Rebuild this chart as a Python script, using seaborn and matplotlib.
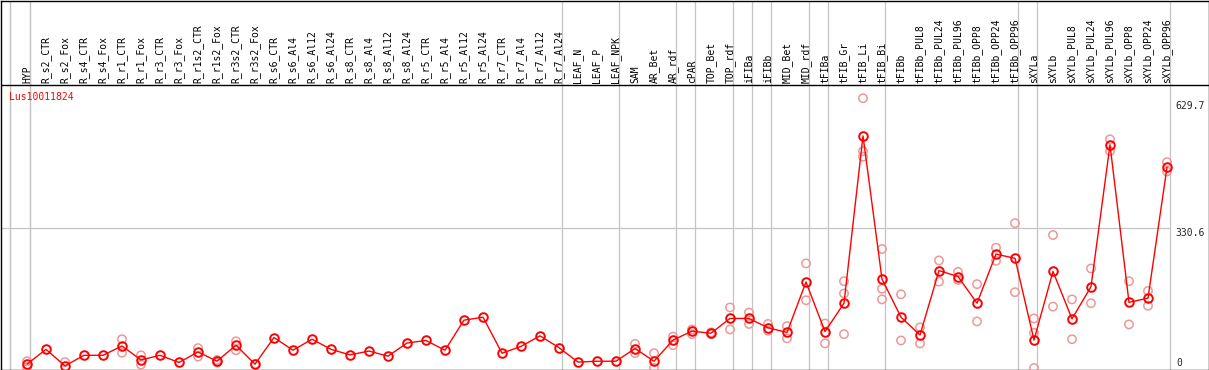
import matplotlib
matplotlib.use("Agg")
import matplotlib.pyplot as plt
import seaborn as sns
import numpy as np
import pandas as pd

samples = [
    "HYP", "R_s2_CTR", "R_s2_Fox", "R_s4_CTR", "R_s4_Fox", "R_r1_CTR", "R_r1_Fox",
    "R_r3_CTR", "R_r3_Fox", "R_r1s2_CTR", "R_r1s2_Fox", "R_r3s2_CTR", "R_r3s2_Fox",
    "R_s6_CTR", "R_s6_Al4", "R_s6_Al12", "R_s6_Al24", "R_s8_CTR", "R_s8_Al4",
    "R_s8_Al12", "R_s8_Al24", "R_r5_CTR", "R_r5_Al4", "R_r5_Al12", "R_r5_Al24",
    "R_r7_CTR", "R_r7_Al4", "R_r7_Al12", "R_r7_Al24", "LEAF_N", "LEAF_P", "LEAF_NPK",
    "SAM", "AR_Bet", "AR_rdf", "cPAR", "TOP_Bet", "TOP_rdf", "iFIBa", "iFIBb",
    "MID_Bet", "MID_rdf", "tFIBa", "tFIB_Gr", "tFIB_Li", "tFIB_Bi", "tFIBb",
    "tFIBb_PUL8", "tFIBb_PUL24", "tFIBb_PUL96", "tFIBb_OPP8", "tFIBb_OPP24",
    "tFIBb_OPP96", "sXYLa", "sXYLb", "sXYLb_PUL8", "sXYLb_PUL24", "sXYLb_PUL96",
    "sXYLb_OPP8", "sXYLb_OPP24", "sXYLb_OPP96",
]

# mean expression per sample
means = [
    9, 44, 5, 30, 30, 52, 19, 30, 13, 38, 16, 54, 9,
    72, 42, 68, 44, 31, 40, 28, 59, 65, 42, 113, 120,
    35, 51, 76, 48, 14, 16, 16,
    46, 16, 66, 87, 82, 117, 117, 95, 84, 203,
    86, 153, 548, 210, 120, 78, 230, 216, 153, 269, 259,
    66, 228, 116, 192, 527, 155, 165, 474,
]

# individual replicates (sample, value)
rep_samples = [
    "HYP", "HYP", "R_s2_Fox", "R_r1_CTR", "R_r1_CTR", "R_r1_Fox", "R_r1_Fox",
    "R_r1s2_CTR", "R_r1s2_CTR", "R_r1s2_Fox", "R_r1s2_Fox", "R_r3s2_CTR", "R_r3s2_CTR",
    "R_r3s2_Fox", "SAM", "SAM", "AR_Bet", "AR_Bet", "AR_rdf", "AR_rdf",
    "cPAR", "cPAR", "TOP_Bet", "TOP_Bet", "TOP_rdf", "TOP_rdf", "iFIBa", "iFIBa",
    "iFIBb", "iFIBb", "MID_Bet", "MID_Bet", "MID_rdf", "MID_rdf", "tFIBa", "tFIBa",
    "tFIB_Gr", "tFIB_Gr", "tFIB_Gr", "tFIB_Li", "tFIB_Li", "tFIB_Li",
    "tFIB_Bi", "tFIB_Bi", "tFIB_Bi", "tFIBb", "tFIBb", "tFIBb_PUL8", "tFIBb_PUL8",
    "tFIBb_PUL24", "tFIBb_PUL24", "tFIBb_PUL96", "tFIBb_PUL96", "tFIBb_OPP8", "tFIBb_OPP8",
    "tFIBb_OPP24", "tFIBb_OPP24", "tFIBb_OPP96", "tFIBb_OPP96",
    "sXYLa", "sXYLa", "sXYLa", "sXYLb", "sXYLb", "sXYLb_PUL8", "sXYLb_PUL8",
    "sXYLb_PUL24", "sXYLb_PUL24", "sXYLb_PUL96", "sXYLb_PUL96", "sXYLb_OPP8", "sXYLb_OPP8",
    "sXYLb_OPP24", "sXYLb_OPP24", "sXYLb_OPP96", "sXYLb_OPP96",
]
rep_values = [
    16, 2, 14, 68, 36, 30, 8,
    47, 27, 19, 13, 63, 42,
    9, 57, 35, 35, 0, 74, 54,
    91, 80, 84, 80, 143, 91, 131, 104,
    104, 88, 99, 70, 247, 160, 105, 58,
    205, 176, 80, 637, 512, 499,
    281, 187, 162, 174, 65, 96, 58,
    254, 204, 227, 208, 198, 110,
    284, 253, 342, 179,
    117, 83, 0, 314, 145, 162, 68,
    235, 153, 540, 512, 205, 103,
    182, 147, 486, 464,
]

# last sample of each group (group separators)
group_ends = ["HYP", "R_r7_Al24", "LEAF_NPK", "AR_rdf", "cPAR", "TOP_rdf", "iFIBa",
              "iFIBb", "MID_rdf", "tFIBa", "tFIB_Bi", "tFIBb_OPP96", "sXYLa", "sXYLb_OPP96"]

gene = "Lus10011824"
y_ticks = [0, 330.6, 629.7]

sns.set_style("white")
plt.rcParams["font.family"] = ["DejaVu Sans Mono"]

pos = {s: i for i, s in enumerate(samples)}
df_mean = pd.DataFrame({"x": np.arange(len(samples)), "y": means})
df_rep = pd.DataFrame({"x": [pos[s] for s in rep_samples], "y": rep_values})

W, H = 1209, 370
fig = plt.figure(figsize=(W / 100, H / 100), dpi=100)
ax = fig.add_axes([0.5 / W, 0.5 / H, 1208 / W, 369 / H])

# pixel mapping: x = 27 + 19*i, y(0)=368 px from top, 0.4235 px per unit
ax.set_xlim((0.5 - 27) / 19, (1208.5 - 27) / 19)
ax.set_ylim((368 - 369.5) / 0.4235, (368 - 0.5) / 0.4235)

grey = "#c4c4c4"
for s in ["HYP"] + group_ends:
    xline = pos[s] + 0.17
    if s == "HYP":
        ax.axvline(-1 + 0.1, color=grey, lw=0.9, zorder=1)
    ax.axvline(xline, color=grey, lw=0.9, zorder=1)

ax.hlines(y_ticks[1], ax.get_xlim()[0], pos["sXYLb_OPP96"] + 0.17, color=grey, lw=0.9, zorder=1)
ax.axhline((368 - 85) / 0.4235, color="black", lw=1.0, zorder=2)

sns.scatterplot(data=df_rep, x="x", y="y", ax=ax, s=36, marker="o",
                facecolor="none", edgecolor="#ee9898", linewidth=1.1, zorder=3)
sns.lineplot(data=df_mean, x="x", y="y", ax=ax, color="red", lw=1.0,
             marker="o", markersize=6.2, markerfacecolor="none",
             markeredgecolor="red", markeredgewidth=1.4, zorder=4)

for i, s in enumerate(samples):
    ax.text(i, (368 - 83) / 0.4235, s, rotation=90, ha="center", va="bottom",
            fontsize=7, color="black")

ax.text(-0.95, (368 - 97) / 0.4235, gene, color="red", fontsize=7, ha="left", va="center")

xr = (1175 - 27) / 19
ax.text(xr, y_ticks[2], f"{y_ticks[2]}", fontsize=7, ha="left", va="top")
ax.text(xr, y_ticks[1], f"{y_ticks[1]}", fontsize=7, ha="left", va="top")
ax.text(xr + 0.05, y_ticks[0], f"{y_ticks[0]}", fontsize=7, ha="left", va="bottom")

ax.set_xticks([])
ax.set_yticks([])
ax.set_xlabel("")
ax.set_ylabel("")
for sp in ax.spines.values():
    sp.set_color("black")
    sp.set_linewidth(1.0)

fig.savefig("out.png", dpi=100)
